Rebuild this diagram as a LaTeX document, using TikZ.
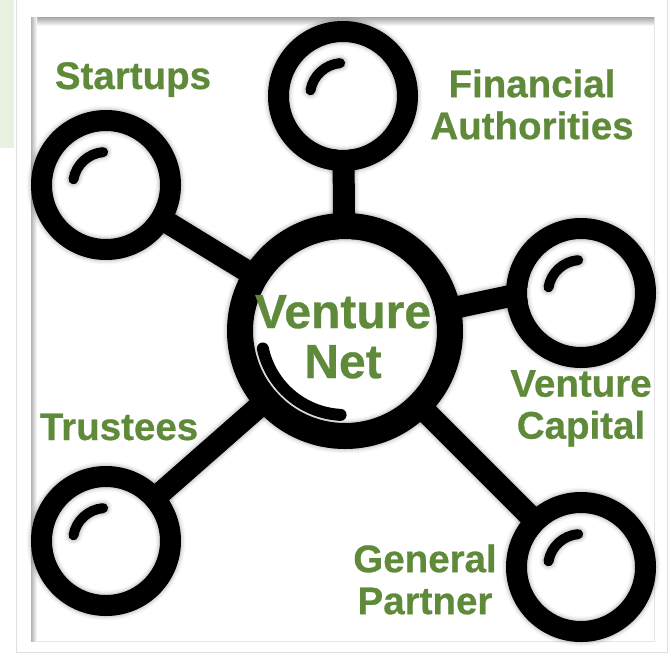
\documentclass[tikz,border=0pt]{standalone}
\usepackage{fontspec}
\setmainfont{Liberation Sans}[BoldFeatures={FakeBold=0.6}]
\usetikzlibrary{calc}
\definecolor{vgreen}{RGB}{94,138,58}
\definecolor{patch}{RGB}{233,242,224}
\pgfdeclarelayer{bg}
\pgfdeclarelayer{lns}
\pgfdeclarelayer{disc}
\pgfdeclarelayer{shad}
\pgfdeclarelayer{top}
\pgfsetlayers{bg,lns,disc,shad,main,top}
\begin{document}
\begin{tikzpicture}[x=1pt,y=-1pt,
  ring/.style={circle,draw=black,line width=21pt,minimum size=129pt,inner sep=0pt,outer sep=0pt},
  hub/.style={circle,draw=black,line width=26pt,minimum size=210pt,inner sep=0pt,outer sep=0pt},
  link/.style={line width=22pt,draw=black},
  glint/.style={line width=10pt,line cap=round,draw=black},
  lbl/.style={text=vgreen,font=\bfseries\fontsize{38.5}{42}\selectfont,align=center,inner sep=0pt},
  hublbl/.style={text=vgreen,font=\bfseries\fontsize{48}{50}\selectfont,align=center,inner sep=0pt},
]
\useasboundingbox (0,0) rectangle (671,656);
\begin{pgfonlayer}{bg}
  \fill[white] (0,0) rectangle (671,656);
  \fill[patch] (0,0) rectangle (14,148);
  \draw[gray!25,line width=1pt] (16,-4) rectangle (667,652);
  \draw[gray!20,line width=0.8pt] (31,17) rectangle (654,641);
  \shade[top color=gray!70,bottom color=white] (31,17) rectangle (654,26);
  \shade[left color=gray!60,right color=white] (31,17) rectangle (37,641);
\end{pgfonlayer}

% nodes
\node[hub]  (C) at (345,331) {};
\node[ring] (S) at (106,185) {};
\node[ring] (F) at (343,96) {};
\node[ring] (V) at (581,293) {};
\node[ring] (T) at (106,541) {};
\node[ring] (G) at (581,567) {};

% connectors and their shadows
\begin{pgfonlayer}{lns}
  \foreach \e/\op in {0/0.10,3/0.07,6/0.05,9/0.03}{
    \begin{scope}[shift={(3,4)},opacity=\op]
      \foreach \n in {S,F,T,G}{\draw[link,line width=22pt+\e pt] (C.center) -- (\n.center);}
      \draw[link,line width=22pt+\e pt] (C.center) -- ([yshift=12pt]V.center);
    \end{scope}
  }
  \foreach \n in {S,F,T,G}{\draw[link] (C.center) -- (\n.center);}
  \draw[link] (C.center) -- ([yshift=12pt]V.center);
\end{pgfonlayer}

% white interiors
\begin{pgfonlayer}{disc}
  \fill[white] (C.center) circle[radius=92pt];
  \foreach \n in {S,F,V,T,G}{\fill[white] (\n.center) circle[radius=54pt];}
\end{pgfonlayer}

% shadows of rings and small glints
\begin{pgfonlayer}{shad}
  \foreach \e/\op in {0/0.10,3/0.07,6/0.05,9/0.03}{
    \begin{scope}[shift={(3,4)},opacity=\op]
      \draw[line width=26pt+\e pt] (C.center) circle[radius=105pt];
      \foreach \n in {S,F,V,T,G}{
        \draw[line width=21pt+\e pt] (\n.center) circle[radius=64.5pt];
        \draw[line width=10pt+\e pt,line cap=round] (\n.center) ++(170:33pt) arc[start angle=170,delta angle=-75,radius=33pt];
      }
    \end{scope}
  }
\end{pgfonlayer}

% glints
\foreach \n in {S,F,V,T,G}{
  \draw[glint] (\n.center) ++(170:33pt) arc[start angle=170,delta angle=-75,radius=33pt];
}
\begin{pgfonlayer}{top}
  \draw[black,line width=12pt,line cap=round] (C.center) ++(192:84pt) arc[start angle=192,delta angle=75,radius=84pt];
\end{pgfonlayer}

% labels
\node[hublbl] (tC) at (343,336.8) {Venture\\Net};
\node[lbl,anchor=base] (tS) at (133,89) {Startups};
\node[lbl] (tF) at (532,104.4) {Financial\\Authorities};
\node[lbl] (tV) at (581,408.4) {Venture\\Capital};
\node[lbl,anchor=base] (tT) at (119,440) {Trustees};
\node[lbl] (tG) at (425,579.4) {General\\Partner};
\end{tikzpicture}
\end{document}
